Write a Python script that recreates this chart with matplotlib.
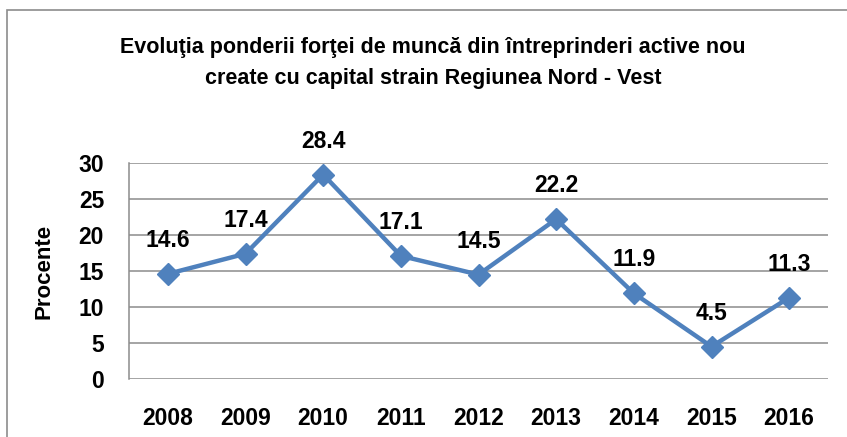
import matplotlib
matplotlib.use("Agg")
import matplotlib.pyplot as plt
from matplotlib.patches import Rectangle

years = ["2008", "2009", "2010", "2011", "2012", "2013", "2014", "2015", "2016"]
values = [14.6, 17.4, 28.4, 17.1, 14.5, 22.2, 11.9, 4.5, 11.3]
y_ticks = [0, 5, 10, 15, 20, 25, 30]

plt.rcParams["font.family"] = ["Liberation Sans", "DejaVu Sans"]

fig = plt.figure(figsize=(8.47, 4.37), dpi=100)
ax = fig.add_axes([129 / 847, 1 - 379 / 437, 699 / 847, 216 / 437])

# outer chart frame (only left and top visible in the reference)
fig.patches.append(Rectangle((7 / 847, -0.2), 2.0, 1.2 - 10 / 437, transform=fig.transFigure,
                             fill=False, edgecolor="#8c8c8c", linewidth=1.2))

x = list(range(len(years)))
ax.plot(x, values, color="#4F81BD", linewidth=3.2, marker="D", markersize=11.5,
        markerfacecolor="#4F81BD", markeredgecolor="#4F81BD", zorder=3, clip_on=False)

for xi, v in zip(x, values):
    ax.annotate(f"{v:.1f}", (xi, v), xytext=(0, 24), textcoords="offset points",
                ha="center", va="center", fontsize=16.5, fontweight="bold")

ax.set_xlim(-0.5, len(years) - 0.5)
ax.set_ylim(0, 30)
ax.set_yticks(y_ticks)
ax.set_xticks(x)
ax.set_xticklabels(years)
ax.tick_params(axis="both", length=0, labelsize=16.5)
ax.tick_params(axis="x", pad=20)
ax.tick_params(axis="y", pad=18)
for lab in ax.get_xticklabels() + ax.get_yticklabels():
    lab.set_fontweight("bold")

ax.grid(axis="y", color="#8c8c8c", linewidth=1.1)
ax.set_axisbelow(True)
for side in ["top", "right", "bottom"]:
    ax.spines[side].set_visible(False)
ax.spines["left"].set_color("#8c8c8c")
ax.spines["left"].set_linewidth(1.1)

ax.set_ylabel("Procente", fontsize=16, fontweight="bold")
ax.yaxis.set_label_coords(-75 / 699, 0.5)

fig.text(433 / 847, 1 - 63 / 437,
         "Evoluţia ponderii forţei de muncă din întreprinderi active nou\ncreate cu capital strain Regiunea Nord - Vest",
         ha="center", va="center", fontsize=15.5, fontweight="bold", linespacing=1.6)

fig.savefig("out.png", dpi=100)
